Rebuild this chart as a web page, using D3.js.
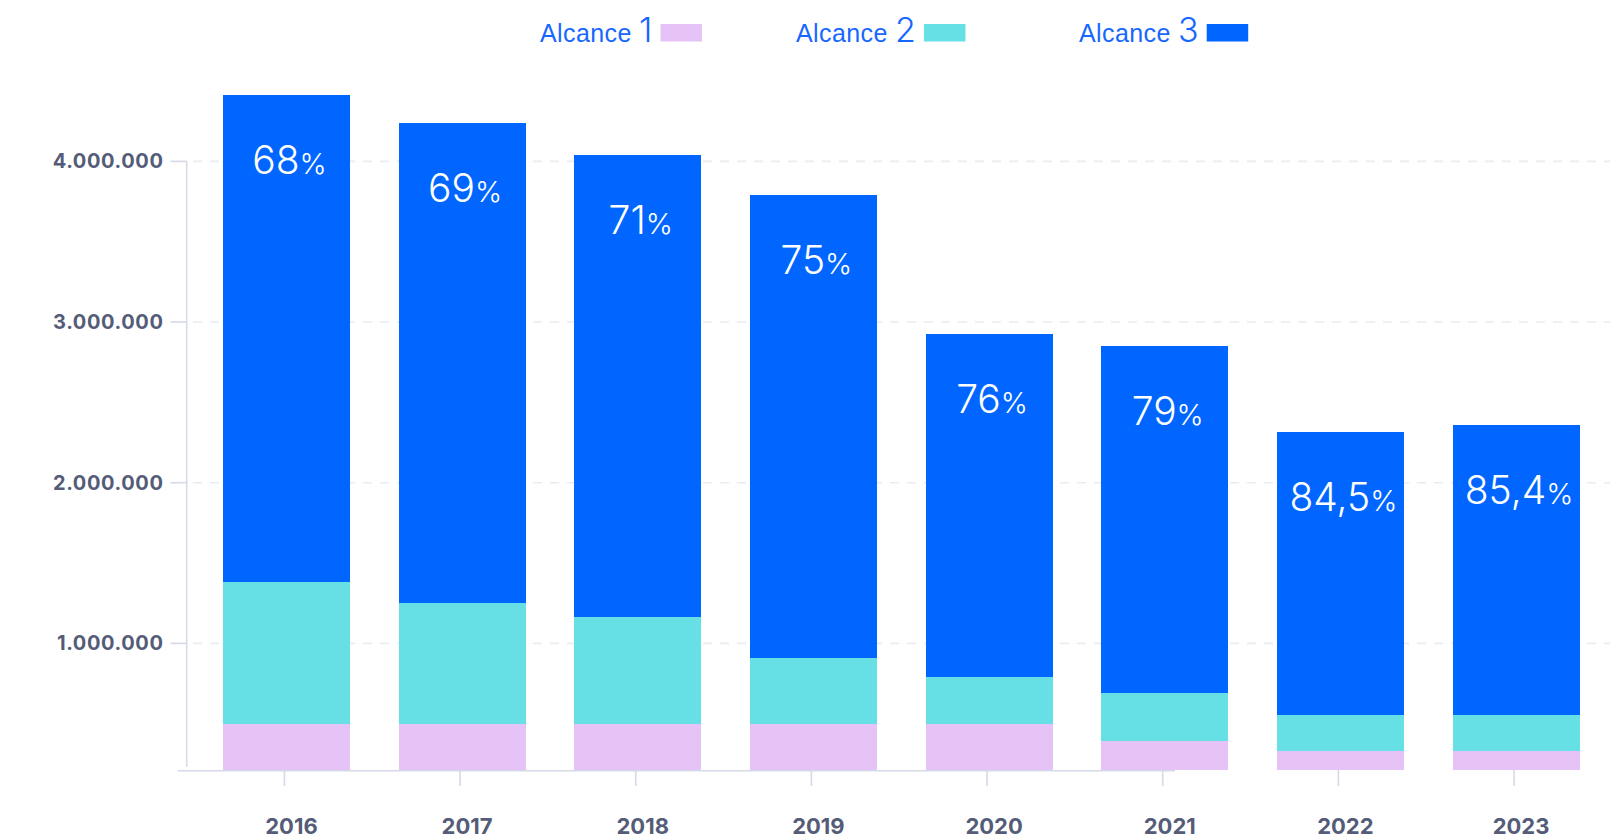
<!DOCTYPE html>
<html>
<head>
<meta charset="utf-8">
<script src="https://cdn.jsdelivr.net/npm/d3@7"></script>
<style>
  html, body { margin: 0; padding: 0; background: #ffffff; overflow: hidden; }
  svg { display: block; }
</style>
</head>
<body>
<svg id="chart" width="1615" height="839"></svg>
<script>
// Emissions by scope (tCO2e), 2016–2023
const years = ["2016", "2017", "2018", "2019", "2020", "2021", "2022", "2023"];
const alcance1 = [500000, 500000, 500000, 500000, 500000, 392000, 330000, 330000];
const alcance2 = [882000, 751000, 664000, 409000, 290000, 299000, 224000, 224000];
const alcance3 = [3031000, 2987000, 2877000, 2882000, 2135000, 2160000, 1761000, 1805000];
// Share of scope 3 in the total, as printed on each bar
const shareLabels = ["68", "69", "71", "75", "76", "79", "84,5", "85,4"];
const seriesNames = ["Alcance 1", "Alcance 2", "Alcance 3"];
const yTicks = [1000000, 2000000, 3000000, 4000000];

const colors = ["#e6c3f7", "#66e0e5", "#0066ff"];
const axisColor = "#d6d9e8";
const labelColor = "#545c78";

const svg = d3.select("#chart");

const rows = years.map((yr, i) => ({
  year: yr,
  a1: alcance1[i],
  a2: alcance2[i],
  a3: alcance3[i],
  share: shareLabels[i]
}));

const stacked = d3.stack().keys(["a1", "a2", "a3"])(rows);

// Layout
const baseY = 770;
const yFloor = 212000; // value sitting on the horizontal axis line
const x = d3.scaleBand()
  .domain(years)
  .range([223, 1579.5])
  .paddingInner(0.2776)
  .paddingOuter(0);

const y = d3.scaleLinear()
  .domain([yFloor, 4500000])
  .range([baseY, 81])
  .clamp(true);

const locale = d3.formatLocale({ decimal: ",", thousands: ".", grouping: [3], currency: ["", " €"] });
const fmt = locale.format(",");

// Dashed gridlines
svg.append("g")
  .selectAll("line")
  .data(yTicks)
  .join("line")
  .attr("x1", 193)
  .attr("x2", 1610)
  .attr("y1", d => y(d))
  .attr("y2", d => y(d))
  .attr("stroke", "#eaecf4")
  .attr("stroke-width", 1.6)
  .attr("stroke-dasharray", "9,8");

// Y axis
const yAxisX = 186.7;
const yAxisG = svg.append("g").attr("class", "y-axis");
yAxisG.append("line")
  .attr("x1", yAxisX).attr("x2", yAxisX)
  .attr("y1", y(4000000)).attr("y2", baseY - 3)
  .attr("stroke", axisColor).attr("stroke-width", 1.5);
yAxisG.selectAll("line.tick")
  .data(yTicks)
  .join("line")
  .attr("class", "tick")
  .attr("x1", 170.5).attr("x2", yAxisX)
  .attr("y1", d => y(d)).attr("y2", d => y(d))
  .attr("stroke", axisColor).attr("stroke-width", 1.6);
yAxisG.selectAll("text")
  .data(yTicks)
  .join("text")
  .attr("x", 163.5)
  .attr("y", d => y(d) + 7)
  .attr("text-anchor", "end")
  .attr("fill", labelColor)
  .attr("font-family", "Inter, 'DejaVu Sans', sans-serif")
  .attr("font-weight", 700)
  .attr("font-size", 20)
  .attr("letter-spacing", 0.6)
  .text(d => fmt(d));

// X axis line and ticks
const xAxisG = svg.append("g").attr("class", "x-axis");
xAxisG.append("line")
  .attr("x1", 177.7).attr("x2", 1175)
  .attr("y1", baseY + 0.8).attr("y2", baseY + 0.8)
  .attr("stroke", axisColor).attr("stroke-width", 1.6);
xAxisG.selectAll("line.tick")
  .data(years)
  .join("line")
  .attr("class", "tick")
  .attr("x1", d => x(d) + x.bandwidth() / 2 - 2)
  .attr("x2", d => x(d) + x.bandwidth() / 2 - 2)
  .attr("y1", baseY).attr("y2", baseY + 16)
  .attr("stroke", axisColor).attr("stroke-width", 1.6);
xAxisG.selectAll("text")
  .data(years)
  .join("text")
  .attr("x", d => x(d) + x.bandwidth() / 2 + 5)
  .attr("y", 834)
  .attr("text-anchor", "middle")
  .attr("fill", labelColor)
  .attr("font-family", "Inter, 'DejaVu Sans', sans-serif")
  .attr("font-weight", 700)
  .attr("font-size", 22)
  .text(d => d);

// Stacked bars
svg.append("g")
  .selectAll("g")
  .data(stacked)
  .join("g")
  .attr("fill", (d, i) => colors[i])
  .selectAll("rect")
  .data(d => d)
  .join("rect")
  .attr("x", d => x(d.data.year))
  .attr("width", x.bandwidth())
  .attr("y", d => y(d[1]))
  .attr("height", d => y(d[0]) - y(d[1]))
  .attr("shape-rendering", "crispEdges");

// Scope 3 share labels
const scope3Layer = stacked[2];
const shareText = svg.append("g")
  .selectAll("text")
  .data(scope3Layer)
  .join("text")
  .attr("x", d => x(d.data.year) + x.bandwidth() / 2 + 3)
  .attr("y", d => y(d[1]) + 79)
  .attr("text-anchor", "middle")
  .attr("fill", "#ffffff")
  .attr("font-family", "Inter, 'Open Sans', sans-serif")
  .attr("font-weight", 300);
shareText.append("tspan")
  .attr("font-size", 39)
  .text(d => d.data.share);
shareText.append("tspan")
  .attr("font-size", 29)
  .text("%");

// Legend
const legendStarts = [540, 796, 1079];
const legend = svg.append("g").attr("class", "legend");
seriesNames.forEach((name, i) => {
  const parts = name.split(" ");
  const t = legend.append("text")
    .attr("x", legendStarts[i])
    .attr("y", 42)
    .attr("fill", "#1767ff")
    .attr("font-family", "'Liberation Sans', Arial, sans-serif");
  t.append("tspan").attr("font-size", 25).attr("letter-spacing", 0.4).text(parts[0] + " ");
  t.append("tspan").attr("font-size", 34).attr("font-family", "Inter, sans-serif").attr("font-weight", 300).text(parts[1]);
  const w = t.node().getComputedTextLength();
  legend.append("rect")
    .attr("x", legendStarts[i] + w + 8)
    .attr("y", 24)
    .attr("width", 41.5)
    .attr("height", 17.5)
    .attr("fill", colors[i]);
});
</script>
</body>
</html>
